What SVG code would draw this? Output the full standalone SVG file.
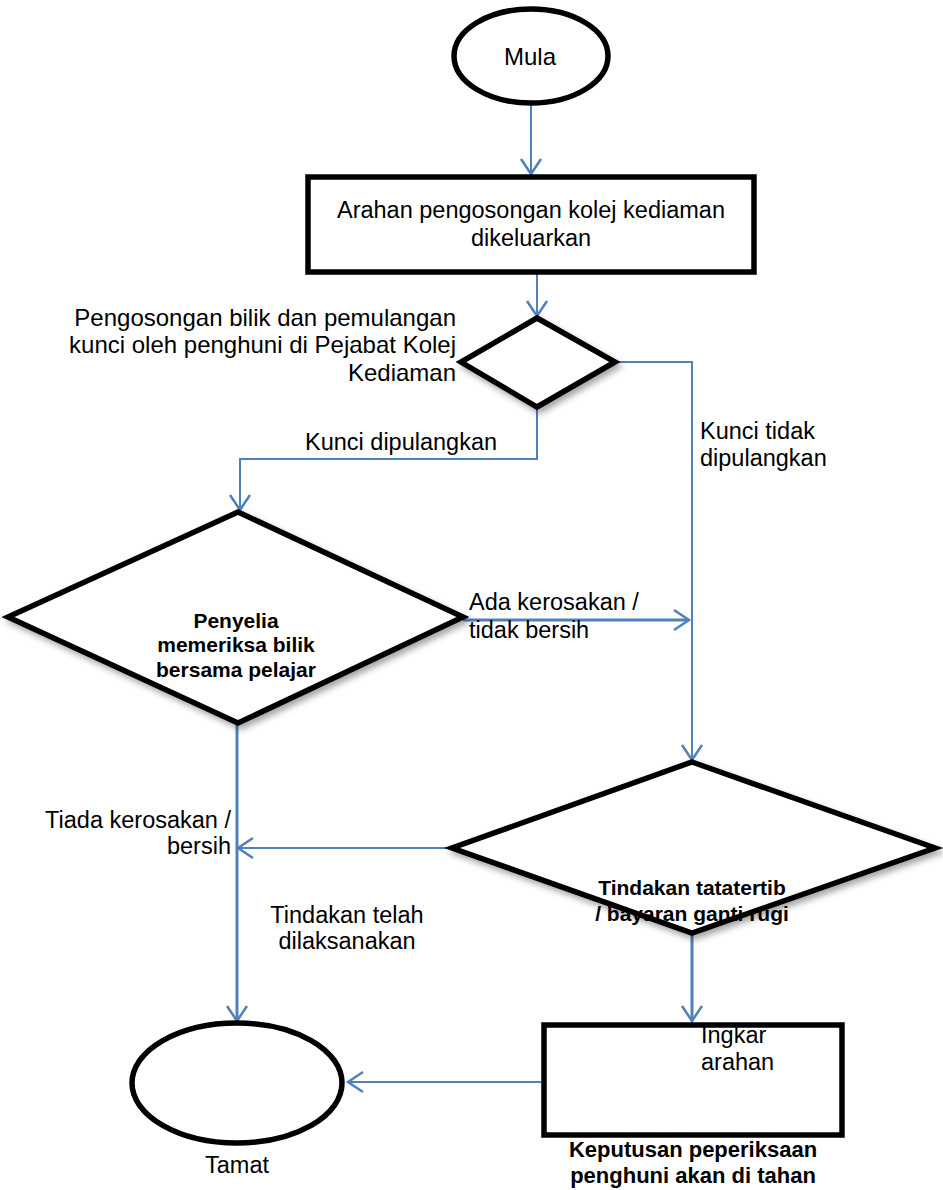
<svg xmlns="http://www.w3.org/2000/svg" width="943" height="1190" viewBox="0 0 943 1190">
<style>
.shape{fill:#fff;stroke:#000;stroke-width:5.5;stroke-linejoin:miter}
.t{font-family:"Liberation Sans",Arial,sans-serif;font-size:23.5px;fill:#000}
.b{font-family:"Liberation Sans",Arial,sans-serif;font-size:21px;font-weight:bold;fill:#000}
.c{fill:none;stroke:#4F81BD;stroke-width:2}
.c3{fill:none;stroke:#4F81BD;stroke-width:3}
</style>
<defs>
<marker id="arr" markerUnits="userSpaceOnUse" markerWidth="20" markerHeight="24" viewBox="-17 -12 20 24" refX="0" refY="0" orient="auto">
<path d="M-15,-10 L0,0 L-15,10" fill="none" stroke="#4F81BD" stroke-width="2.5"/>
</marker>
<filter id="sh" x="-10%" y="-10%" width="125%" height="130%">
<feDropShadow dx="3" dy="4" stdDeviation="3" flood-color="#000" flood-opacity="0.35"/>
</filter>
</defs>
<rect width="943" height="1190" fill="#fff"/>

<g id="connectors">
<path class="c" d="M531,105 L531,174" marker-end="url(#arr)"/>
<path class="c" d="M537,274 L537,316" marker-end="url(#arr)"/>
<path class="c" d="M537,407 L537,459 L240,459 L240,510" marker-end="url(#arr)"/>
<path class="c" d="M615,362 L692,362 L692,760" marker-end="url(#arr)"/>
<path class="c3" d="M463,620 L689,620" marker-end="url(#arr)"/>
<path class="c" d="M452,848 L238,848" marker-end="url(#arr)"/>
<path class="c3" d="M237,723 L237,1021" marker-end="url(#arr)"/>
<path class="c3" d="M692,933 L692,1021" marker-end="url(#arr)"/>
<path class="c" d="M541,1082 L348,1082" marker-end="url(#arr)"/>
</g>

<g id="mula">
<ellipse class="shape" cx="531" cy="56" rx="77" ry="47"/>
<text class="t" x="530" y="65" text-anchor="middle" style="font-size:24px">Mula</text>
</g>

<g id="arahan">
<rect class="shape" x="308" y="177" width="446" height="95"/>
<text class="t" x="531" y="218" text-anchor="middle">Arahan pengosongan kolej kediaman</text>
<text class="t" x="531" y="246" text-anchor="middle">dikeluarkan</text>
</g>

<g id="pengosongan">
<polygon class="shape" filter="url(#sh)" points="537,318 615,362 537,407 461,362"/>
<text class="t" x="456" y="326" text-anchor="end" style="font-size:24px">Pengosongan bilik dan pemulangan</text>
<text class="t" x="456" y="353" text-anchor="end" style="font-size:24px">kunci oleh penghuni di Pejabat Kolej</text>
<text class="t" x="456" y="381" text-anchor="end" style="font-size:24px">Kediaman</text>
</g>

<g id="penyelia">
<polygon class="shape" filter="url(#sh)" points="238,512 463,617 238,723 8,617"/>
<text class="b" x="236" y="628" text-anchor="middle">Penyelia</text>
<text class="b" x="236" y="652" text-anchor="middle">memeriksa bilik</text>
<text class="b" x="236" y="677" text-anchor="middle">bersama pelajar</text>
</g>

<g id="tindakan">
<polygon class="shape" filter="url(#sh)" points="692,762 935,848 692,933 452,848"/>
<text class="b" x="692" y="895" text-anchor="middle">Tindakan tatatertib</text>
<text class="b" x="692" y="921" text-anchor="middle">/ bayaran ganti rugi</text>
</g>

<g id="keputusan">
<rect class="shape" x="544" y="1025" width="298" height="110"/>
<text class="t" x="701" y="1043">Ingkar</text>
<text class="t" x="701" y="1070">arahan</text>
<text class="b" x="693" y="1157" text-anchor="middle" style="font-size:22px">Keputusan peperiksaan</text>
<text class="b" x="693" y="1183" text-anchor="middle" style="font-size:22px">penghuni akan di tahan</text>
</g>

<g id="tamat">
<ellipse class="shape" cx="237" cy="1083" rx="105" ry="60"/>
<text class="t" x="237" y="1173" text-anchor="middle">Tamat</text>
</g>

<g id="labels">
<text class="t" x="305" y="450">Kunci dipulangkan</text>
<text class="t" x="700" y="439">Kunci tidak</text>
<text class="t" x="700" y="466">dipulangkan</text>
<text class="t" x="469" y="610">Ada kerosakan /</text>
<text class="t" x="469" y="638">tidak bersih</text>
<text class="t" x="231" y="828" text-anchor="end">Tiada kerosakan /</text>
<text class="t" x="231" y="854" text-anchor="end">bersih</text>
<text class="t" x="347" y="923" text-anchor="middle">Tindakan telah</text>
<text class="t" x="347" y="949" text-anchor="middle">dilaksanakan</text>
</g>
</svg>
